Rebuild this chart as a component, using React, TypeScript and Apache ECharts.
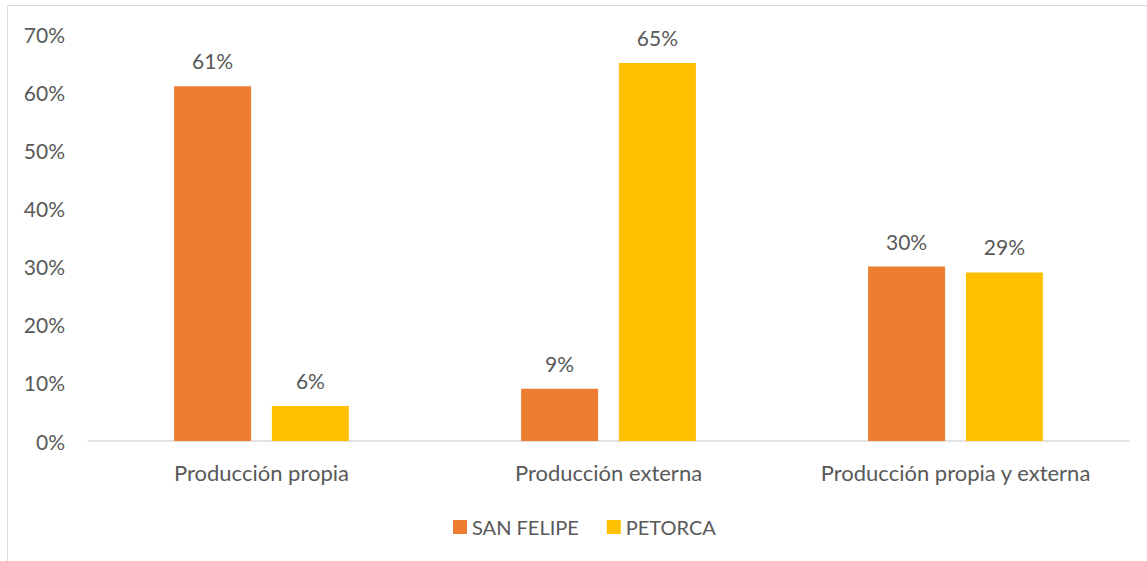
import React, { useEffect, useRef } from "react";
import * as echarts from "echarts";

const categories = ["Producción propia", "Producción externa", "Producción propia y externa"];
const sanFelipe = [61, 9, 30];
const petorca = [6, 65, 29];
const seriesNames = ["SAN FELIPE", "PETORCA"];

const FONT = "Lato, 'Open Sans', sans-serif";
const TXT = "#595959";
const FS = 21;

export default function App() {
  const ref = useRef<HTMLDivElement>(null);
  useEffect(() => {
    document.body.style.margin = "0";
    const chart = echarts.init(ref.current!, null, { renderer: "svg" });
    const label = {
      show: true,
      position: "top" as const,
      distance: 15,
      formatter: "{c}%",
      color: TXT,
      fontSize: FS,
      fontFamily: FONT,
    };
    chart.setOption({
      animation: false,
      backgroundColor: "#ffffff",
      graphic: [
        {
          type: "rect",
          shape: { x: 7.5, y: 5.5, width: 1200, height: 600 },
          style: { fill: "none", stroke: "#d9d9d9", lineWidth: 1 },
          silent: true,
        },
      ],
      grid: { left: 88, right: 18, top: 34, bottom: 120 },
      legend: {
        top: 512,
        left: 448,
        itemWidth: 14,
        itemHeight: 14,
        itemGap: 28,
        icon: "rect",
        textStyle: { color: TXT, fontSize: 20, fontFamily: FONT },
        data: seriesNames,
      },
      xAxis: {
        type: "category",
        data: categories,
        axisLine: { lineStyle: { color: "#d9d9d9", width: 1.5 } },
        axisTick: { show: false },
        axisLabel: { color: TXT, fontSize: 22, fontFamily: FONT, margin: 20, interval: 0 },
      },
      yAxis: {
        type: "value",
        min: 0,
        max: 70,
        interval: 10,
        axisLine: { show: false },
        axisTick: { show: false },
        splitLine: { show: false },
        axisLabel: { color: TXT, fontSize: FS, fontFamily: FONT, margin: 23, formatter: "{value}%" },
      },
      series: [
        {
          name: seriesNames[0],
          type: "bar",
          data: sanFelipe,
          barWidth: 77,
          barGap: "27%",
          itemStyle: { color: "#ED7D31" },
          label,
        },
        {
          name: seriesNames[1],
          type: "bar",
          data: petorca,
          barWidth: 77,
          barGap: "27%",
          itemStyle: { color: "#FFC000" },
          label,
        },
      ],
    });
    return () => chart.dispose();
  }, []);
  return <div ref={ref} style={{ width: 1147, height: 561 }} />;
}
